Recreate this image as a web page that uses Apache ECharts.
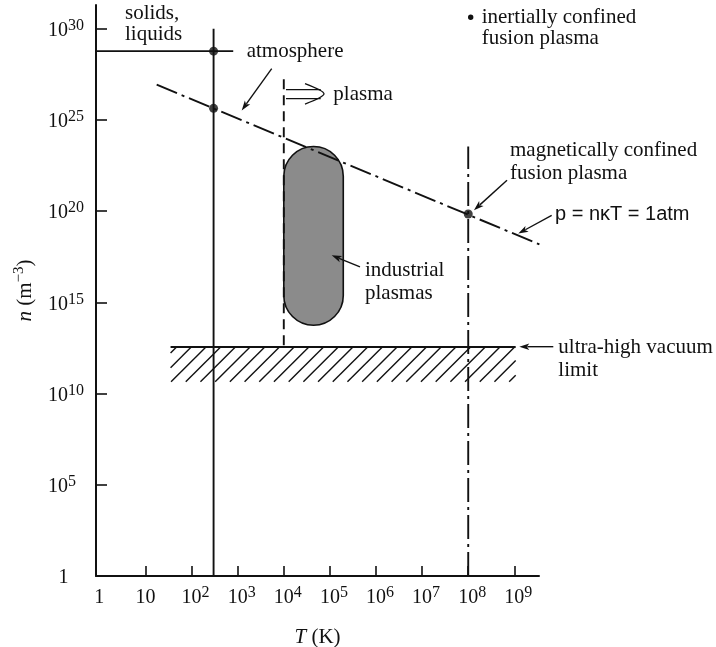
<!DOCTYPE html>
<html><head><meta charset="utf-8">
<script src="https://cdn.jsdelivr.net/npm/echarts@6/dist/echarts.min.js"></script>
<style>html,body{margin:0;padding:0;background:#fff}#c{width:716px;height:647px}</style>
</head><body><div id="c"></div>
<script>
// ---- data (temperature T in K, density n in m^-3) ----
const xTickExponents = [0, 1, 2, 3, 4, 5, 6, 7, 8, 9];
const yTickExponents = [0, 5, 10, 15, 20, 25, 30];
const solidsT = [0.845, 800];
const solidsN = [5.9e28, 5.9e28];
const roomT = [300, 300];
const roomN = [1, 1e30];
const atmT = [17.5, 3.5e9];
const atmN = [8.5e26, 1.5e18];
const plasmaT = [1e4, 1e4];
const plasmaN = [1.7e27, 3.6e12];
const fusionT = [1e8, 1e8];
const fusionN = [1, 3.5e23];
const vacuumT = [35, 1.07e9];
const vacuumN = [3.6e12, 4.4e10];
const industrialT = [1e4, 1.95e5];
const industrialN = [5.6e13, 3.5e23];
const pointT = [300, 300, 1e8];
const pointN = [5.9e28, 4.3e25, 7e19];

// ---- annotation arrows, in (log10 T, log10 n) ----
const arrows = [
  [[3.738, 27.81], [3.087, 25.52]],
  [[8.841, 21.69], [8.124, 20.05]],
  [[9.810, 19.77], [9.086, 18.77]],
  [[5.653, 16.94], [5.039, 17.58]],
  [[9.845, 12.57], [9.108, 12.57]]
];
const dblArrow = { x0: 4.048, x1: 4.80, yA: 26.66, yB: 26.17, tip: [4.872, 26.43], wingA: [4.46, 26.99], wingB: [4.46, 25.87] };

const L = Math.log10;
const pairs = (T, N) => T.map((t, i) => [L(t), L(N[i])]);
const INK = '#111';
const serif = '"Liberation Serif", "Times New Roman", serif';
const sans = '"Liberation Sans", Arial, sans-serif';

const rich = {
  b: { fontSize: 20, fontFamily: serif, color: INK, lineHeight: 26 },
  s: { fontSize: 16, fontFamily: serif, color: INK, lineHeight: 12, verticalAlign: 'top' },
  p: { width: 8 },
  q: { width: 10.5 },
  i: { fontSize: 21, fontFamily: serif, fontStyle: 'italic', color: INK, lineHeight: 26 },
  r: { fontSize: 21, fontFamily: serif, color: INK, lineHeight: 26 },
  t: { fontSize: 15, fontFamily: serif, color: INK, lineHeight: 12, verticalAlign: 'top' }
};

function lineSeries(data, type) {
  return { type: 'line', data, symbol: 'none', showSymbol: false, clip: false, silent: true, z: 3,
    lineStyle: { color: INK, width: 1.9, type, cap: 'butt' } };
}

function arrowEls(p, q) {
  const dx = q[0] - p[0], dy = q[1] - p[1], d = Math.hypot(dx, dy), ux = dx / d, uy = dy / d;
  const len = 10, hw = 3.3;
  const bx = q[0] - ux * len, by = q[1] - uy * len;
  return [
    { type: 'line', shape: { x1: p[0], y1: p[1], x2: bx + ux * 2, y2: by + uy * 2 }, style: { stroke: INK, lineWidth: 1.4 } },
    { type: 'polygon', shape: { points: [[q[0], q[1]], [bx - uy * hw, by + ux * hw], [bx + ux * 2.5, by + uy * 2.5], [bx + uy * hw, by - ux * hw]] }, style: { fill: INK } }
  ];
}

const textItems = [
  ['solids,', 125, 13], ['liquids', 125, 34],
  ['atmosphere', 246.7, 51],
  ['plasma', 333.3, 94],
  ['inertially confined', 481.7, 17], ['fusion plasma', 481.7, 38],
  ['magnetically confined', 510, 150], ['fusion plasma', 510, 173],
  ['industrial', 365, 270], ['plasmas', 365, 293],
  ['ultra-high vacuum', 558.3, 347], ['limit', 558.3, 370]
];
const graphic = textItems.map(([t, x, y]) => ({
  type: 'text', x, y, z: 10, silent: true,
  style: { text: t, fontSize: 21, fontFamily: serif, fill: INK, verticalAlign: 'middle', align: 'left' }
}));
graphic.push({ type: 'text', x: 555, y: 214, z: 10, silent: true,
  style: { text: 'p = n\u03BAT = 1atm', fontSize: 20, fontFamily: sans, fill: INK, verticalAlign: 'middle', align: 'left' } });
graphic.push({ type: 'circle', z: 10, silent: true, shape: { cx: 470.7, cy: 17.3, r: 2.7 }, style: { fill: INK } });

const chart = echarts.init(document.getElementById('c'), null, { renderer: 'canvas' });
chart.setOption({
  animation: false,
  backgroundColor: '#fff',
  grid: { left: 96, right: 177, top: 5, bottom: 71, containLabel: false, outerBoundsMode: 'none' },
  xAxis: {
    type: 'value', min: -0.073, max: 9.535,
    axisLine: { onZero: false, lineStyle: { color: INK, width: 2 } },
    axisTick: { inside: true, length: 10, customValues: xTickExponents.slice(1), lineStyle: { color: INK, width: 1.6 } },
    axisLabel: { customValues: xTickExponents, margin: 9, rich,
      formatter: v => v === 0 ? '{b|1}' : v === 1 ? '{b|10}' : '{p| }{b|10}{s|' + v + '}' },
    splitLine: { show: false },
    name: '{i|T}{r| (K)}', nameLocation: 'middle', nameGap: 48,
    nameTextStyle: { rich }
  },
  yAxis: {
    type: 'value', min: 0, max: 31.3,
    axisLine: { onZero: false, lineStyle: { color: INK, width: 2 } },
    axisTick: { inside: true, length: 11, customValues: yTickExponents.slice(1), lineStyle: { color: INK, width: 1.6 } },
    axisLabel: { customValues: yTickExponents, margin: 48, align: 'left', rich, padding: [4, 0, 0, 0],
      formatter: v => v === 0 ? '{q| }{b|1}' : '{b|10}{s|' + v + '}' },
    splitLine: { show: false },
    name: '{i|n}{r| (m}{t|\u22123}{r|)}', nameLocation: 'middle', nameGap: 58, nameRotate: 90,
    nameTextStyle: { rich }
  },
  graphic,
  series: [
    { type: 'custom', coordinateSystem: 'cartesian2d', clip: false, silent: true, z: 2, data: [[0, 0]],
      renderItem: (params, api) => {
        const a = api.coord([L(industrialT[0]), L(industrialN[1])]);
        const b = api.coord([L(industrialT[1]), L(industrialN[0])]);
        const w = b[0] - a[0], h = b[1] - a[1];
        return { type: 'rect', shape: { x: a[0], y: a[1], width: w, height: h, r: w / 2 },
          style: { fill: '#8b8b8b', stroke: INK, lineWidth: 1.6 } };
      } },
    { type: 'custom', coordinateSystem: 'cartesian2d', clip: false, silent: true, z: 2, data: [[0, 0]],
      renderItem: (params, api) => {
        const a = api.coord([L(vacuumT[0]), L(vacuumN[0])]);
        const b = api.coord([L(vacuumT[1]), L(vacuumN[1])]);
        const x0 = a[0], y0 = a[1], x1 = b[0], y1 = b[1], step = 14.7;
        const children = [];
        for (let c = x0 + y0 + 6; c < x1 + y1; c += step) {
          const xs = Math.max(x0, c - y1), xe = Math.min(x1, c - y0);
          if (xe > xs + 1) children.push({ type: 'line', shape: { x1: xs, y1: c - xs, x2: xe, y2: c - xe }, style: { stroke: INK, lineWidth: 1.4 } });
        }
        return { type: 'group', children };
      } },
    lineSeries(pairs(solidsT, solidsN), 'solid'),
    lineSeries(pairs(roomT, roomN), 'solid'),
    lineSeries(pairs(atmT, atmN), [22, 5, 3, 5]),
    lineSeries(pairs(plasmaT, plasmaN), [10, 6]),
    lineSeries(pairs(fusionT, fusionN), [24, 5, 3, 5]),
    lineSeries([[L(vacuumT[0]), L(vacuumN[0])], [L(vacuumT[1]), L(vacuumN[0])]], 'solid'),
    { type: 'scatter', data: pairs(pointT, pointN), symbolSize: 9, itemStyle: { color: INK }, silent: true, z: 4 },
    { type: 'custom', coordinateSystem: 'cartesian2d', clip: false, silent: true, z: 5, data: [[0, 0]],
      renderItem: (params, api) => {
        const children = [];
        arrows.forEach(([p, q]) => children.push(...arrowEls(api.coord(p), api.coord(q))));
        const A0 = api.coord([dblArrow.x0, dblArrow.yA]), A1 = api.coord([dblArrow.x1, dblArrow.yA]);
        const B0 = api.coord([dblArrow.x0, dblArrow.yB]), B1 = api.coord([dblArrow.x1, dblArrow.yB]);
        const st = { stroke: INK, lineWidth: 1.3, fill: null };
        children.push({ type: 'line', shape: { x1: A0[0], y1: A0[1], x2: A1[0], y2: A1[1] }, style: st });
        children.push({ type: 'line', shape: { x1: B0[0], y1: B0[1], x2: B1[0], y2: B1[1] }, style: st });
        children.push({ type: 'polyline', shape: { points: [api.coord(dblArrow.wingA), api.coord(dblArrow.tip), api.coord(dblArrow.wingB)], smooth: 0.3 }, style: st });
        return { type: 'group', children };
      } }
  ]
});
</script>
</body></html>
